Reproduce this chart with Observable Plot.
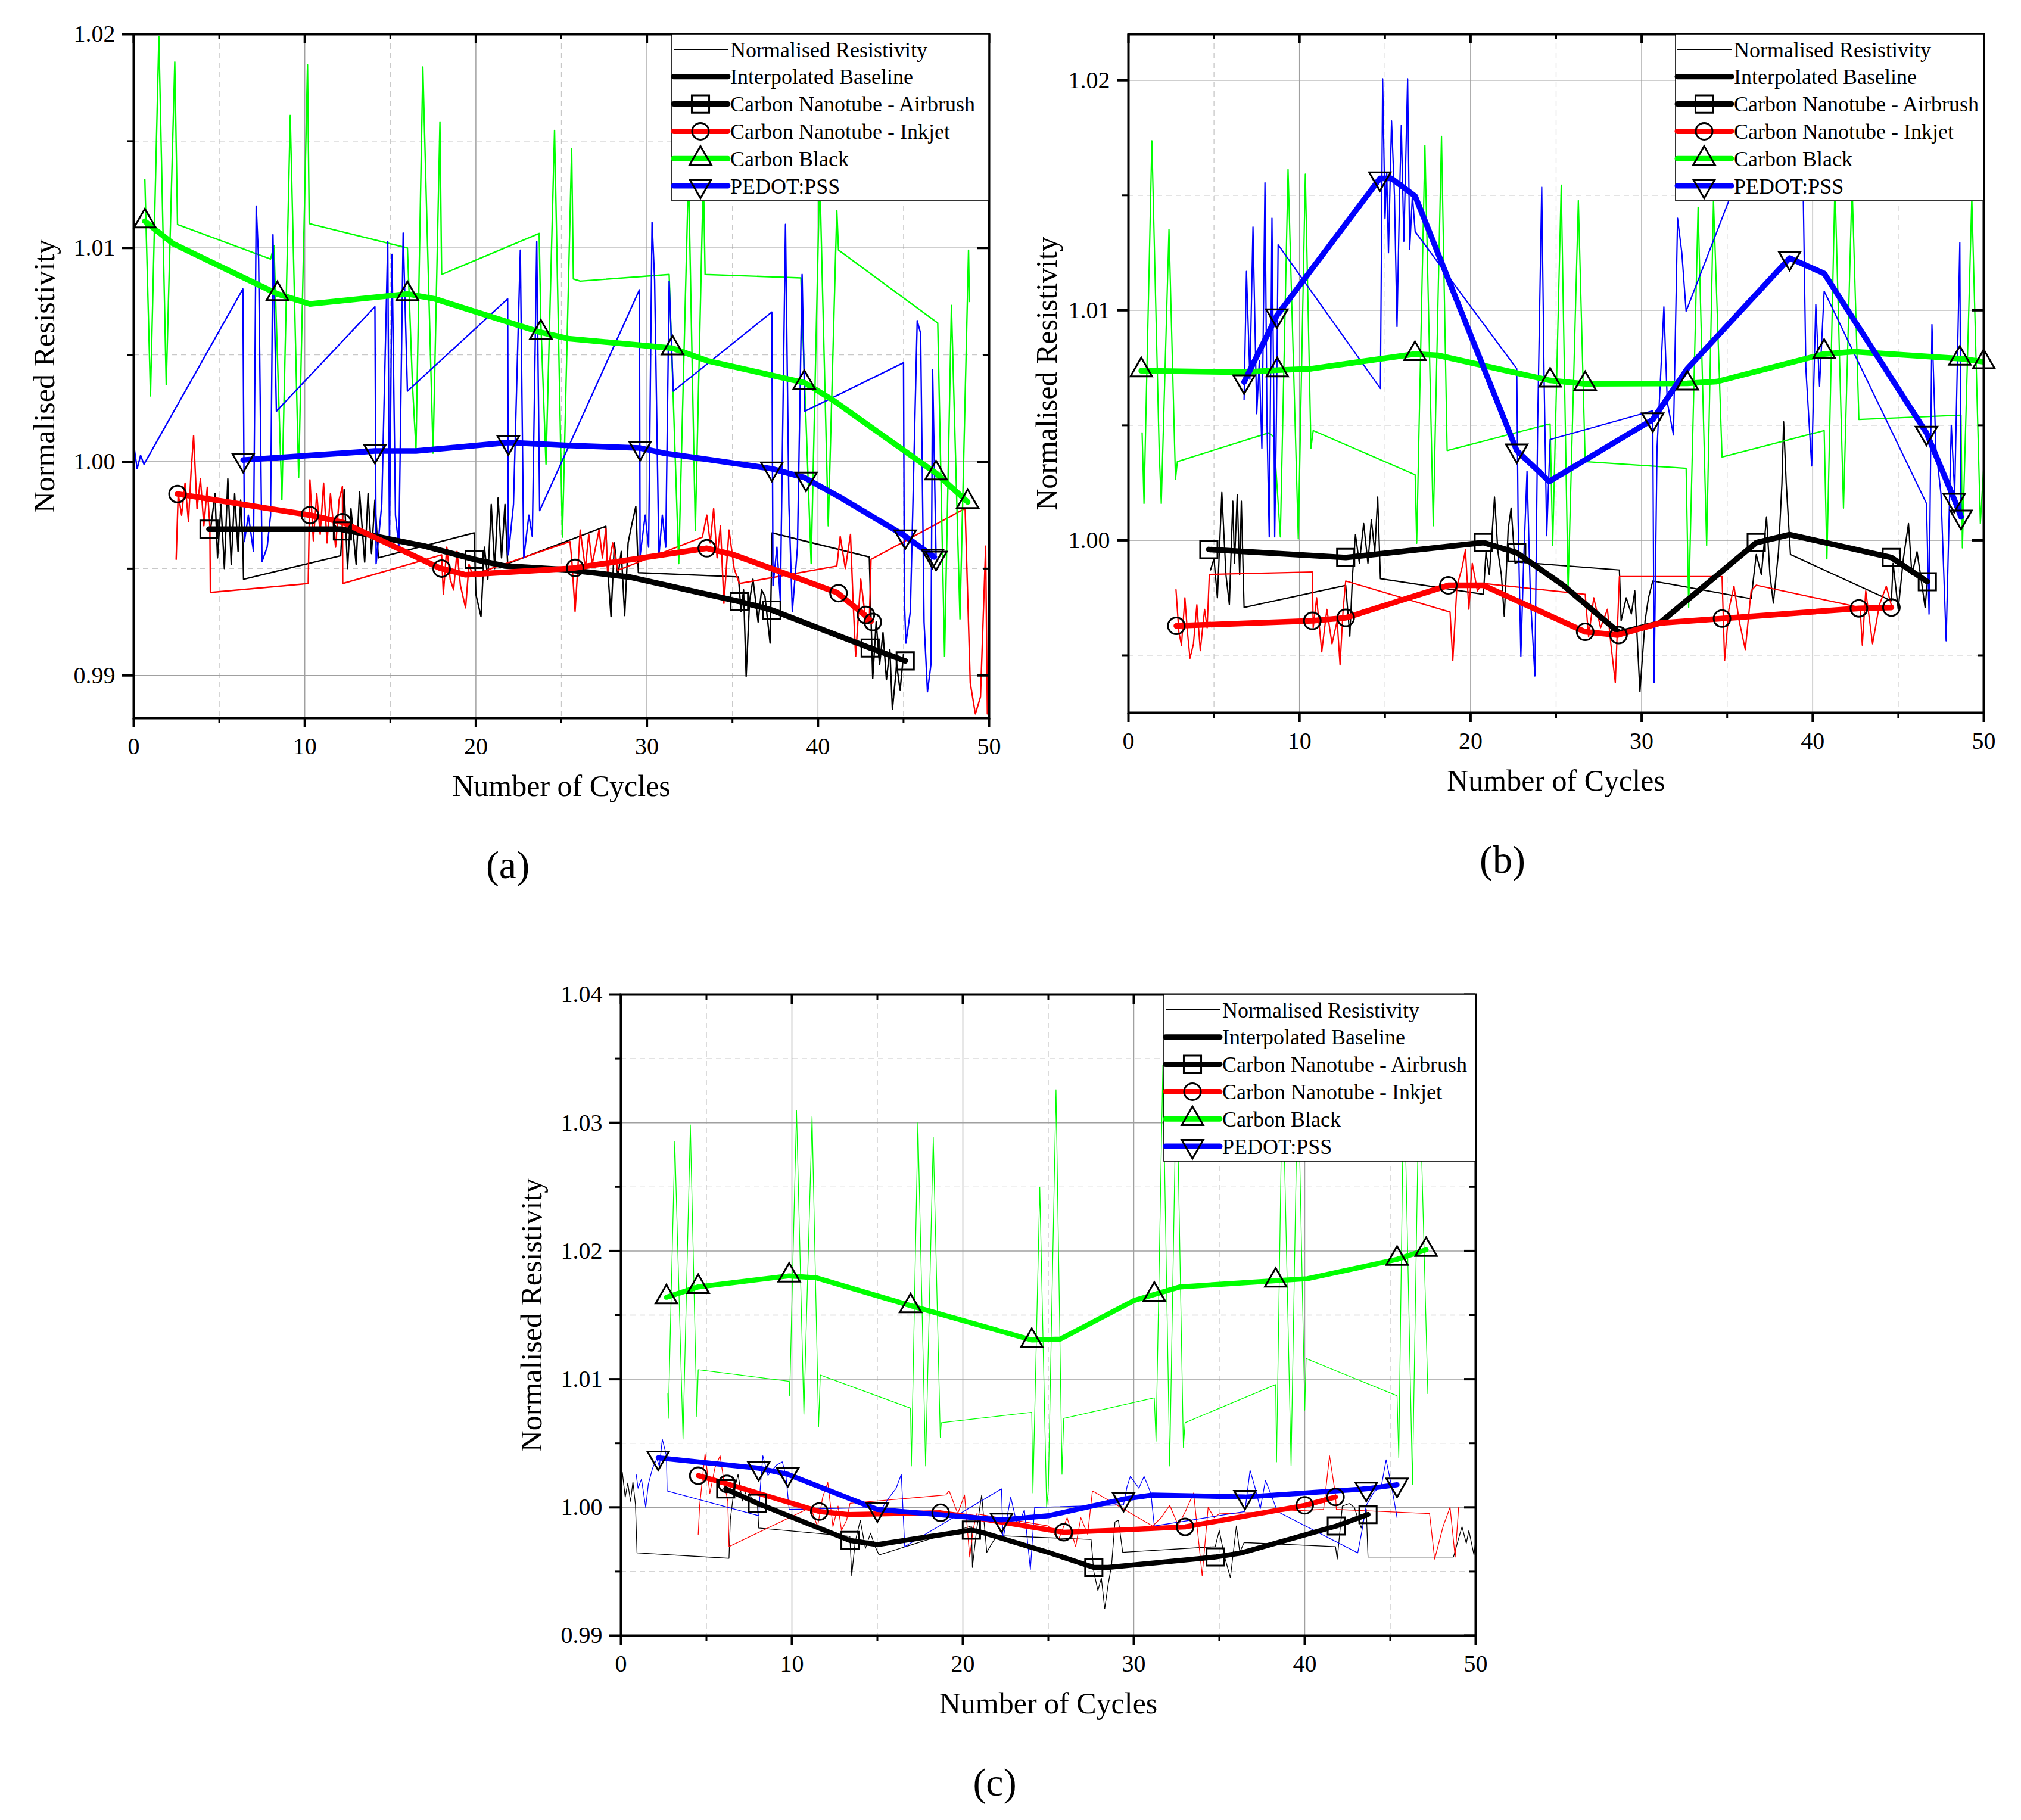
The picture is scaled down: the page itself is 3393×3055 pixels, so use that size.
<!DOCTYPE html>
<html><head><meta charset="utf-8">
<script src="https://cdn.jsdelivr.net/npm/d3@7"></script>
<script src="https://cdn.jsdelivr.net/npm/@observablehq/plot@0.6"></script>
<style>
html,body{margin:0;padding:0;background:#fff;}
#page{position:relative;width:3393px;height:3055px;background:#fff;overflow:hidden;font-family:"Liberation Serif","Times New Roman",serif;}
.panel{position:absolute;}
</style></head><body><div id="page"></div>
<script>
// ---------- tick values ----------
const xTicks = [0, 10, 20, 30, 40, 50];
const xMinorTicks = [5, 15, 25, 35, 45];
const yTicksA = [0.99, 1.00, 1.01, 1.02];
const yMinorA = [0.995, 1.005, 1.015];
const yTicksB = [1.00, 1.01, 1.02];
const yMinorB = [0.995, 1.005, 1.015];
const yTicksC = [0.99, 1.00, 1.01, 1.02, 1.03, 1.04];
const yMinorC = [0.995, 1.005, 1.015, 1.025, 1.035];

const legendLabels = ["Normalised Resistivity", "Interpolated Baseline", "Carbon Nanotube - Airbrush", "Carbon Nanotube - Inkjet", "Carbon Black", "PEDOT:PSS"];
const seriesNames = ["Carbon Nanotube - Airbrush", "Carbon Nanotube - Inkjet", "Carbon Black", "PEDOT:PSS"];
const seriesColors = ["#000000", "#ff0000", "#00ff00", "#0000ff"];
const panelTags = ["(a)", "(b)", "(c)"];
const xLabel = "Number of Cycles";
const yLabel = "Normalised Resistivity";

// ---------- panel (a) ----------
const aBlackThin = [[4.5,0.99688],[4.75,0.9985],[4.9,0.9955],[5.1,0.9980],[5.3,0.9950],[5.5,0.9992],[5.7,0.9952],[5.9,0.9985],[6.1,0.9958],[6.25,0.9982],[6.38,0.9962],[6.42,0.9945],
 [12.1,0.9956],[12.3,0.9987],[12.5,0.9950],[12.7,0.9978],[13.0,0.9952],[13.2,0.9986],[13.5,0.9953],[13.7,0.9985],[13.9,0.9957],[14.1,0.9982],[14.3,0.9955],
 [19.9,0.99667],[20.0,0.9938],[20.3,0.99275],[20.5,0.9960],[20.7,0.9945],[20.9,0.9980],[21.1,0.9950],[21.3,0.9983],[21.5,0.9955],[21.7,0.9980],[21.86,0.99523],
 [27.6,0.99698],[27.65,0.9956],[27.9,0.99275],[28.1,0.9962],[28.3,0.9946],[28.5,0.9958],[28.7,0.9928],[28.9,0.9962],[29.1,0.9970],[29.35,0.99791],[29.5,0.99481],
 [35.35,0.99461],[35.5,0.9930],[35.65,0.9940],[35.8,0.98996],[36.0,0.9935],[36.2,0.9945],[36.5,0.9925],[36.7,0.9940],[36.9,0.9937],[37.2,0.99151],[37.32,0.99667],
 [43.0,0.99554],[43.2,0.98986],[43.4,0.9925],[43.6,0.9905],[43.8,0.9920],[44.0,0.9898],[44.2,0.9912],[44.35,0.98841],[44.6,0.9905],[44.8,0.9893],[45.0,0.9910]];
const aRedThin = [[2.48,0.99543],[2.6,0.9985],[2.8,0.9975],[3.0,0.9990],[3.2,0.9972],[3.35,0.9995],[3.5,1.00122],[3.7,0.9978],[3.9,0.9992],[4.1,0.9970],[4.3,0.9988],[4.45,0.9970],[4.48,0.99388],
 [10.2,0.9943],[10.3,0.99915],[10.5,0.9963],[10.7,0.9985],[10.9,0.9966],[11.1,0.9990],[11.3,0.9962],[11.5,0.9985],[11.8,0.9960],[12.0,0.9982],[12.2,0.99884],[12.22,0.9943],
 [18.0,0.99564],[18.1,0.9938],[18.3,0.9960],[18.5,0.9945],[18.7,0.9940],[18.9,0.9958],[19.1,0.9942],[19.4,0.99316],[19.6,0.9952],[19.8,0.9947],
 [25.5,0.99626],[25.6,0.9955],[25.8,0.9930],[26.1,0.9968],[26.4,0.9950],[26.6,0.9966],[26.8,0.9952],[27.2,0.9968],[27.4,0.9955],[27.6,0.99688],[27.7,0.9948],[28.0,0.9962],[28.3,0.99492],
 [33.24,0.99647],[33.5,0.9975],[33.7,0.9962],[33.9,0.9978],[34.1,0.9955],[34.3,0.9970],[34.5,0.99337],[34.8,0.9968],[35.1,0.9950],[35.4,0.9943],
 [41.1,0.99512],[41.3,0.9965],[41.6,0.9950],[41.9,0.9966],[42.05,0.9935],[42.2,0.99089],[42.5,0.9945],[42.8,0.9925],[43.0,0.99254],[43.1,0.99543],
 [48.6,0.99781],[48.9,0.98965],[49.2,0.9882],[49.5,0.9890],[49.8,0.99605],[49.9,0.9882]];
const aGreenThin = [[0.65,1.0132],[0.98,1.00308],[1.47,1.0199],[1.9,1.0036],[2.4,1.0187],[2.56,1.0111],
 [8.0,1.00948],[8.2,1.0101],[8.66,0.99822],[9.15,1.0162],[9.64,0.99926],[10.16,1.01857],[10.26,1.01114],
 [16.0,1.0100],[16.3,1.0035],[16.5,1.0006],[16.9,1.01847],[17.5,1.0004],[17.9,1.0159],[18.0,1.00876],
 [23.7,1.01068],[23.8,1.0065],[24.1,0.99988],[24.6,1.0155],[25.06,0.99647],[25.6,1.01465],[25.7,1.00855],[26.1,1.00845],
 [31.3,1.00876],[31.86,0.99523],[32.43,1.0135],[32.83,0.99678],[33.3,1.0135],[33.4,1.00876],
 [39.0,1.0086],[39.6,0.99523],[40.1,1.0135],[40.6,0.9970],[41.1,1.01176],[41.2,1.0099],
 [47.0,1.00649],[47.4,0.99089],[47.8,1.00731],[48.3,0.99264],[48.8,1.0099],[48.85,1.0075]];
const aBlueThin = [[0,1.0008],[0.2,0.99967],[0.4,1.0003],[0.6,0.99988],[6.38,1.00808],[6.47,0.99626],[6.7,0.9975],[7.0,0.9958],[7.16,1.01196],[7.3,1.0095],[7.5,0.99533],[7.8,0.9960],[8.0,0.9975],[8.14,1.01062],[8.34,1.00236],
 [14.1,1.00725],[14.17,0.99523],[14.5,0.9980],[14.85,1.0103],[14.95,0.9960],[15.1,1.0097],[15.3,0.9975],[15.5,0.9960],[15.75,1.0107],[16.0,1.0033],
 [21.86,1.00762],[21.9,0.99564],[22.2,0.9980],[22.6,1.0099],[22.8,0.9955],[23.1,0.9975],[23.3,0.9965],[23.56,1.0103],[23.73,0.99771],
 [29.56,1.00804],[29.6,0.9956],[29.9,0.9975],[30.1,0.9960],[30.3,1.0112],[30.45,1.0085],[30.7,0.9956],[30.9,0.9975],[31.1,0.9960],[31.3,1.00845],[31.54,1.0033],
 [37.3,1.007],[37.37,0.9942],[37.6,0.9960],[37.8,0.9935],[38.1,1.0111],[38.3,0.9980],[38.5,0.9930],[38.8,0.9960],[39.07,1.00876],[39.23,1.00236],
 [45.0,1.00463],[45.05,0.9935],[45.14,0.99151],[45.4,0.9930],[45.8,1.0066],[46.0,1.0060],[46.2,0.9925],[46.4,0.98924],[46.6,0.9905],[46.7,1.0043],[46.9,0.99564]];
const aBlackBase = [[4.4,0.99684],[12.1,0.99684],[17.0,0.99605],[19.9,0.99543],[21.7,0.99512],[25.4,0.99494],[29.0,0.9946],[35.35,0.99347],[37.3,0.99306],[43.0,0.9913],[45.1,0.99068]];
const aBlackMarks = [[4.4,0.99684],[12.2,0.99676],[19.9,0.99543],[35.4,0.99345],[37.3,0.99306],[43.05,0.99128],[45.1,0.99068]];
const aRedBase = [[2.56,0.99849],[10.3,0.9975],[12.2,0.99717],[17.9,0.99502],[19.4,0.99471],[25.7,0.99502],[33.5,0.99595],[35.1,0.99564],[41.1,0.99388],[42.7,0.99285],[43.1,0.99254]];
const aRedMarks = [[2.56,0.99849],[10.3,0.9975],[12.2,0.99717],[18.0,0.995],[25.8,0.99503],[33.5,0.99595],[41.2,0.99385],[42.8,0.99283],[43.2,0.9925]];
const aGreenBase = [[0.65,1.01125],[2.3,1.0102],[8.4,1.00785],[10.3,1.00738],[16.0,1.00785],[17.6,1.00762],[23.8,1.00605],[25.4,1.00576],[31.5,1.00531],[33.5,1.00473],[39.2,1.0037],[40.9,1.00287],[46.9,0.99946],[48.75,0.99812]];
const aGreenMarks = [[0.65,1.01125],[8.4,1.00785],[16.0,1.00785],[23.8,1.00605],[31.5,1.00531],[39.2,1.0037],[46.9,0.99946],[48.75,0.99812]];
const aBlueBase = [[6.4,1.00008],[14.1,1.0005],[16.5,1.0005],[21.9,1.0009],[25.4,1.00076],[29.6,1.00064],[31.0,1.0004],[37.3,0.99967],[39.2,0.99926],[41.3,0.99833],[45.0,0.99657],[46.8,0.99554]];
const aBlueMarks = [[6.4,1.00008],[14.1,1.0005],[21.9,1.0009],[29.6,1.00064],[37.3,0.99967],[39.3,0.9992],[45.1,0.9965],[46.7,0.9956],[46.9,0.9955]];

// ---------- panel (b) ----------
const bBlackThin = [[4.8,0.99871],[5.0,0.9992],[5.2,0.9975],[5.46,1.00208],[5.7,0.9985],[5.9,0.9972],[6.1,1.0017],[6.2,0.9990],[6.36,1.00198],[6.5,0.9985],[6.6,1.0017],[6.76,0.99708],
 [12.7,0.99804],[12.94,0.99583],[13.1,0.9985],[13.27,1.00025],[13.5,0.9990],[13.75,1.00073],[14.0,0.9990],[14.2,1.0009],[14.4,0.9995],[14.57,1.00188],[14.73,0.99833],
 [20.75,0.99765],[20.9,0.99948],[21.1,0.9985],[21.4,1.00188],[21.6,0.9995],[21.8,0.9985],[21.97,0.99669],[22.2,1.0005],[22.37,1.0014],[22.6,0.9990],[22.78,0.99905],
 [28.7,0.99871],[28.8,0.9965],[29.1,0.9975],[29.4,0.9968],[29.6,0.9978],[29.9,0.99342],[30.2,0.9965],[30.4,0.9975],[30.65,0.99823],
 [36.4,0.99746],[36.7,0.99938],[37.0,0.9985],[37.3,1.00102],[37.5,0.9985],[37.7,0.99727],[38.0,0.9995],[38.2,1.00246],[38.3,1.00515],[38.45,1.0025],[38.7,0.99938],
 [44.6,0.99737],[44.7,0.9990],[45.0,0.9970],[45.3,0.9992],[45.6,1.00073],[45.8,0.9985],[46.1,0.9995],[46.3,0.9985],[46.57,0.99708],[46.7,0.9982]];
const bRedThin = [[2.78,0.99785],[2.95,0.9960],[3.1,0.99544],[3.3,0.9975],[3.45,0.9960],[3.6,0.99487],[3.8,0.9955],[4.0,0.9972],[4.2,0.9952],[4.45,0.9970],[4.6,0.9962],[4.73,0.99852],
 [10.75,0.99862],[10.8,0.9962],[11.0,0.9975],[11.3,0.99515],[11.6,0.9970],[11.9,0.9955],[12.2,0.9965],[12.37,0.99458],[12.55,0.9970],[12.7,0.99823],
 [18.8,0.99688],[18.96,0.99477],[19.2,0.9980],[19.5,0.9988],[19.7,0.99958],[19.9,0.9970],[20.1,0.9990],[20.4,0.9978],[20.67,0.99813],
 [26.7,0.99765],[26.9,0.9958],[27.2,0.9975],[27.6,0.9962],[28.0,0.9970],[28.2,0.9955],[28.46,0.99381],[28.7,0.99842],
 [34.7,0.99842],[34.85,0.99477],[35.1,0.9970],[35.4,0.9980],[35.7,0.9965],[36.06,0.99525],[36.4,0.9978],[36.7,0.99805],
 [42.77,0.99708],[42.9,0.99544],[43.1,0.9978],[43.5,0.9955],[43.9,0.9972],[44.3,0.9980],[44.63,0.99708]];
const bGreenThin = [[0.8,1.00467],[0.91,1.0016],[1.37,1.01737],[1.8,1.0038],[1.92,1.0016],[2.37,1.01352],[2.75,1.00265],[2.86,1.00342],
 [8.2,1.00467],[8.5,1.0045],[8.88,1.00015],[9.33,1.01612],[9.93,1.00006],[10.34,1.01592],[10.67,1.004],[10.8,1.00477],
 [16.76,1.00285],[16.85,0.99987],[17.33,1.01717],[17.82,1.00063],[18.3,1.01756],[18.63,1.0039],
 [24.65,1.00506],[24.8,0.99977],[25.3,1.01544],[25.7,0.99785],[26.3,1.01477],[26.7,1.00342],
 [32.6,1.00313],[32.75,0.99708],[33.3,1.01448],[33.8,0.99977],[34.2,1.01477],[34.7,1.00362],
 [40.67,1.00477],[40.83,0.99919],[41.3,1.0155],[41.8,1.0014],[42.3,1.0155],[42.7,1.00525],
 [48.67,1.00544],[48.75,0.99967],[49.3,1.0149],[49.8,1.00073],[50.1,1.0045]];
const bBlueThin = [[6.76,1.00612],[6.9,1.01169],[7.1,1.0070],[7.28,1.01362],[7.5,1.0055],[7.65,1.0078],[7.8,1.0040],[7.98,1.01554],[8.1,1.0050],[8.23,1.00015],[8.39,1.014],[8.5,1.0060],[8.55,1.00015],[8.65,1.0053],[8.75,1.01285],
 [14.73,1.0066],[14.86,1.02006],[15.0,1.0140],[15.1,1.0160],[15.2,1.0125],[15.38,1.01823],[15.55,1.0150],[15.7,1.00929],[15.85,1.0150],[15.95,1.01804],[16.1,1.0130],[16.32,1.02006],[16.44,1.01265],[16.6,1.0150],[16.76,1.01342],
 [22.7,1.00746],[22.78,1.00092],[22.94,0.99496],[23.1,0.9990],[23.3,1.0030],[23.5,0.9975],[23.76,0.9941],[23.92,1.00496],[24.16,1.01535],[24.3,1.0070],[24.45,1.0002],[24.65,1.00438],
 [30.65,1.00563],[30.73,0.99381],[30.9,1.0040],[31.1,1.0070],[31.3,1.01015],[31.5,1.0060],[31.86,1.00458],[32.1,1.014],[32.35,1.0125],[32.6,1.00996],
 [36.0,1.0165],[39.3,1.0165],[39.45,1.0149],[39.6,1.00746],[39.94,1.00323],[40.18,1.01025],[40.4,1.0067],[40.67,1.01083],
 [46.65,1.0016],[46.8,0.99679],[46.97,1.00938],[47.2,1.0040],[47.5,1.0020],[47.8,0.99563],[48.1,1.0050],[48.3,1.0020],[48.6,1.01294],[48.67,1.00102]];
const bBlackBase = [[4.7,0.9996],[12.7,0.99925],[20.75,0.9999],[22.7,0.99946],[25.4,0.99805],[28.7,0.99598],[31.05,0.9964],[36.7,0.9999],[38.65,1.00025],[44.6,0.99925],[46.7,0.9982]];
const bBlackMarks = [[4.7,0.9996],[12.7,0.99925],[20.75,0.9999],[22.7,0.99946],[36.7,0.9999],[44.6,0.99925],[46.7,0.9982]];
const bRedBase = [[2.8,0.99628],[10.75,0.9965],[12.7,0.99663],[18.7,0.99804],[20.75,0.99804],[26.7,0.99602],[28.6,0.99588],[31.05,0.9964],[34.7,0.9966],[42.7,0.99704],[44.6,0.99708]];
const bRedMarks = [[2.8,0.99628],[10.75,0.9965],[12.7,0.99663],[18.7,0.99804],[26.7,0.99602],[28.65,0.99588],[34.7,0.9966],[42.7,0.99704],[44.6,0.99708]];
const bGreenBase = [[0.75,1.00737],[6.8,1.00731],[8.7,1.0074],[10.7,1.00746],[16.75,1.0081],[18.1,1.00804],[24.65,1.00695],[26.7,1.0068],[32.67,1.00682],[34.4,1.0069],[40.67,1.0081],[42.4,1.0082],[48.6,1.0079],[50.1,1.00775]];
const bGreenMarks = [[0.75,1.0074],[8.7,1.0074],[16.75,1.0081],[24.65,1.00695],[26.7,1.0068],[32.67,1.00682],[40.67,1.0082],[48.6,1.0079],[50.0,1.00775]];
const bBlueBase = [[6.76,1.00688],[8.68,1.00977],[14.7,1.01573],[15.38,1.01573],[16.76,1.01496],[22.7,1.0039],[24.6,1.00256],[30.65,1.00525],[32.67,1.00746],[38.65,1.01227],[40.67,1.0116],[46.65,1.00467],[48.27,1.00179],[48.67,1.00102]];
const bBlueMarks = [[6.76,1.0069],[8.68,1.00977],[14.7,1.01573],[22.7,1.0039],[30.65,1.00525],[38.65,1.01227],[46.65,1.00467],[48.27,1.00175],[48.67,1.00102]];

// ---------- panel (c) ----------
const cBlackThin = [[0.08,1.00274],[0.25,1.0008],[0.4,1.0019],[0.56,1.00048],[0.7,1.0020],[0.85,1.0002],[0.94,0.99645],
 [6.32,0.99603],[6.4,0.9991],[6.6,1.0012],[6.85,1.00258],[7.1,1.0005],[7.4,1.0015],[7.7,1.0005],[7.98,1.0003],[8.06,0.99839],
 [13.39,0.99774],[13.5,0.99468],[13.7,0.9973],[14.0,0.9990],[14.3,0.9968],[14.6,0.9980],[14.85,0.9970],[15.1,0.99629],
 [20.5,0.99855],[20.56,0.99532],[20.8,0.9982],[21.1,1.00097],[21.4,0.9965],[21.7,0.9972],[22.0,0.9978],
 [27.5,0.9975],[27.66,0.995],[27.9,0.9935],[28.1,0.9945],[28.3,0.9921],[28.5,0.9940],[28.7,0.9955],[28.9,0.99887],[29.1,0.9990],[29.35,0.9965],
 [34.76,0.99694],[35.0,0.9982],[35.3,0.9962],[35.65,0.99452],[36.0,0.99855],[36.2,0.9965],[36.45,0.99726],
 [41.8,0.99694],[41.9,0.99597],[42.2,1.0001],[42.6,1.0003],[42.9,1.0],[43.3,0.9984],[43.6,0.99984],[43.7,0.99613],
 [48.7,0.99613],[49.0,0.99758],[49.2,0.9985],[49.45,0.9972],[49.6,0.9982],[49.9,0.99629],[50.0,0.9975]];
const cRedThin = [[4.52,0.9979],[4.6,1.0001],[4.92,1.00419],[5.2,1.0011],[5.5,1.0031],[5.8,1.00403],[6.05,1.0018],[6.25,1.0005],[6.32,0.99694],
 [11.1,1.0],[11.5,0.9985],[11.8,1.0008],[12.1,1.00194],[12.4,0.9985],[12.7,1.0001],[12.9,0.9982],[13.2,0.9990],[13.4,1.00032],
 [19.0,1.00097],[19.2,1.00129],[19.7,0.99952],[20.1,1.00097],[20.4,0.99613],[20.6,0.99823],[20.8,0.9995],
 [25.0,0.99855],[25.6,0.9975],[26.1,0.9992],[26.6,0.99694],[26.9,0.9992],[27.3,0.9979],[27.58,1.00129],
 [31.1,0.99855],[31.6,0.9992],[32.1,1.00016],[32.6,0.9986],[33.06,0.9998],[33.5,1.00113],[33.8,0.99726],[34.0,0.99468],[34.35,1.0],[34.7,0.9992],[35.0,0.9995],
 [41.1,0.99984],[41.45,1.00403],[41.8,1.00097],[41.85,0.99984],[47.3,0.99952],[47.6,0.99597],[48.1,0.99855],[48.5,1.0],[48.8,0.99613],[49.0,1.0]];
const cGreenThin = [[2.74,1.00887],[2.77,1.00694],[3.15,1.02855],[3.63,1.00532],[4.06,1.02984],[4.44,1.0071],[4.52,1.01074],
 [9.84,1.00984],[9.87,1.0087],[10.27,1.03097],[10.7,1.00726],[11.18,1.03048],[11.56,1.00629],[11.66,1.01032],
 [16.94,1.00774],[16.99,1.00323],[17.37,1.03],[17.82,1.00323],[18.27,1.02887],[18.68,1.00548],[18.74,1.00661],
 [24.03,1.00742],[24.1,1.00113],[24.5,1.025],[24.9,1.0],[25.0,1.00145],[25.45,1.03258],[25.8,1.00258],[25.9,1.00694],
 [31.2,1.00855],[31.3,1.00516],[31.7,1.0345],[32.1,1.00323],[32.5,1.0345],[32.9,1.00468],[33.0,1.00661],
 [38.3,1.00958],[38.35,1.00355],[38.7,1.0345],[39.2,1.00323],[39.6,1.0345],[40.0,1.00758],[40.08,1.01161],
 [45.4,1.00871],[45.5,1.00387],[45.8,1.0345],[46.3,1.00177],[46.7,1.0345],[47.2,1.00887]];
const cBlueThin = [[0.89,1.00258],[1.0,1.0015],[1.2,1.0022],[1.45,1.0],[1.6,1.0018],[1.85,1.00306],[2.1,1.0038],[2.25,1.0032],[2.42,1.00532],[2.66,1.00403],[2.7,1.00129],
 [8.06,0.99935],[8.15,1.0015],[8.3,1.00403],[8.6,1.0025],[9.1,1.0033],[9.44,1.00355],[9.65,1.0025],[9.84,0.99984],
 [15.3,1.0],[15.7,1.0008],[16.1,1.0015],[16.4,1.00258],[16.6,0.99694],
 [22.26,1.00145],[22.35,0.9975],[22.8,1.0008],[23.2,0.9985],[23.6,0.9998],[23.95,0.99516],[24.2,1.0],
 [29.4,1.0002],[29.6,1.0016],[29.8,1.00242],[30.3,1.0015],[30.6,1.00242],[31.0,1.0011],[31.2,0.99855],
 [36.5,0.99968],[36.8,1.0029],[37.1,1.0015],[37.4,0.9999],[37.7,1.0021],[38.0,1.0011],[38.4,0.99968],
 [43.1,0.99645],[43.35,0.9982],[43.6,1.00016],[44.0,1.0011],[44.5,1.0018],[44.76,1.00371],[45.1,1.0015],[45.4,0.9992]];
const cBlackBase = [[6.13,1.00145],[7.98,1.00032],[13.4,0.99742],[15.0,0.9971],[20.5,0.99823],[21.1,0.99806],[25.1,0.99645],[27.66,0.99532],[28.5,0.99532],[34.76,0.99613],[36.3,0.99645],[41.85,0.99855],[43.7,0.99945]];
const cBlackMarks = [[6.13,1.00145],[7.98,1.00032],[13.4,0.99742],[20.5,0.99823],[27.66,0.99532],[34.76,0.99613],[41.85,0.99855],[43.7,0.99945]];
const cRedBase = [[4.52,1.00248],[6.2,1.00184],[11.6,0.99968],[13.3,0.99945],[18.7,0.99958],[20.5,0.99925],[25.9,0.99806],[29.0,0.99823],[33.0,0.99848],[40.0,1.00016],[41.8,1.00081]];
const cRedMarks = [[4.52,1.00248],[6.2,1.00184],[11.6,0.99968],[18.7,0.99958],[25.9,0.99806],[33.0,0.99848],[40.0,1.00016],[41.8,1.00081]];
const cGreenBase = [[2.66,1.01639],[4.52,1.0172],[9.84,1.01806],[11.45,1.0179],[16.94,1.01574],[24.03,1.01306],[25.7,1.01313],[30.0,1.01613],[31.2,1.01661],[32.7,1.0172],[38.3,1.01768],[40.16,1.01784],[45.4,1.01935],[47.1,1.0201]];
const cGreenMarks = [[2.66,1.0164],[4.52,1.0172],[9.84,1.0181],[16.94,1.0157],[24.03,1.0130],[31.2,1.0166],[38.3,1.0177],[45.4,1.0194],[47.1,1.0201]];
const cBlueBase = [[2.18,1.00387],[8.06,1.00306],[9.76,1.00258],[15.0,0.99984],[22.26,0.99903],[25.0,0.99935],[29.4,1.00065],[31.1,1.00097],[36.5,1.00081],[43.6,1.00145],[45.4,1.00177]];
const cBlueMarks = [[2.18,1.00387],[8.06,1.00306],[9.76,1.00258],[15.0,0.99984],[22.26,0.99903],[29.4,1.00065],[36.5,1.00081],[43.6,1.00145],[45.4,1.00177]];

// ---------- drawing ----------
const triangleDown = {
  draw(ctx, size) {
    const y = -Math.sqrt(size / (Math.sqrt(3) * 3));
    ctx.moveTo(0, -y * 2);
    ctx.lineTo(-Math.sqrt(3) * y, y);
    ctx.lineTo(Math.sqrt(3) * y, y);
    ctx.closePath();
  }
};
const markSymbols = ["square", "circle", "triangle", triangleDown];
const markR = [16.4, 14, 13.4, 13.4];
const d3Symbols = [d3.symbolSquare, d3.symbolCircle, d3.symbolTriangle, triangleDown];

const M = {l: 220, r: 30, t: 30, b: 340};
const FONT = "'Liberation Serif','Times New Roman',serif";

function makePanel(p) {
  const W = p.fw + M.l + M.r, H = p.fh + M.t + M.b;
  const X = d => d[0], Y = d => d[1];
  const marks = [
    Plot.gridX(xMinorTicks, {stroke: "#c8c8c8", strokeOpacity: 1, strokeWidth: 1.3, strokeDasharray: "9,7"}),
    Plot.gridY(p.yMinor, {stroke: "#c8c8c8", strokeOpacity: 1, strokeWidth: 1.3, strokeDasharray: "9,7"}),
    Plot.gridX(xTicks, {stroke: "#a0a0a0", strokeOpacity: 1, strokeWidth: 1.5}),
    Plot.gridY(p.yTicks, {stroke: "#a0a0a0", strokeOpacity: 1, strokeWidth: 1.5})
  ];
  p.thin.forEach((s, i) => marks.push(Plot.line(s, {x: X, y: Y, stroke: seriesColors[i], strokeWidth: p.thinW, strokeLinejoin: "round", clip: true})));
  p.base.forEach((s, i) => marks.push(Plot.line(s, {x: X, y: Y, stroke: seriesColors[i], strokeWidth: p.thickW, strokeLinejoin: "round", strokeLinecap: "round", clip: true})));
  p.marks.forEach((s, i) => marks.push(Plot.dot(s, {x: X, y: Y, symbol: markSymbols[i], r: markR[i], stroke: "black", strokeWidth: 3, fill: "none"})));
  marks.push(
    Plot.frame({stroke: "black", strokeWidth: 4}),
    Plot.axisX(xTicks, {anchor: "bottom", tickSize: 16, tickPadding: 16, strokeWidth: 4, fontSize: 40, label: null, tickFormat: d => String(d)}),
    Plot.axisX(xMinorTicks, {anchor: "bottom", tickSize: 9, strokeWidth: 3, fill: "none", label: null}),
    Plot.axisY(p.yTicks, {anchor: "left", tickSize: 19, tickPadding: 12, strokeWidth: 4, fontSize: 40, label: null, tickFormat: d3.format(".2f")}),
    Plot.axisY(p.yMinor, {anchor: "left", tickSize: 10, strokeWidth: 3, fill: "none", label: null}),
    Plot.tickX(xTicks, {x: d => d, stroke: "black", strokeWidth: 4, insetBottom: p.fh - 16}),
    Plot.tickX(xMinorTicks, {x: d => d, stroke: "black", strokeWidth: 3, insetBottom: p.fh - 9}),
    Plot.tickY(p.yTicks, {y: d => d, stroke: "black", strokeWidth: 4, insetLeft: p.fw - 19}),
    Plot.tickY(p.yMinor, {y: d => d, stroke: "black", strokeWidth: 3, insetLeft: p.fw - 10}),
    Plot.text([xLabel], {text: d => d, frameAnchor: "bottom", dy: 130, fontSize: 50, fill: "black"}),
    Plot.text([yLabel], {text: d => d, frameAnchor: "left", dx: p.ylabDx, rotate: -90, fontSize: 50, textAnchor: "middle", fill: "black"}),
    Plot.text([p.tag], {text: d => d, frameAnchor: "bottom", dy: 268, dx: -90, fontSize: 66, fill: "black"})
  );
  const svg = Plot.plot({
    width: W, height: H,
    marginLeft: M.l, marginRight: M.r, marginTop: M.t, marginBottom: M.b,
    x: {domain: [0, 50]},
    y: {domain: p.yDomain},
    style: {fontFamily: FONT, fontSize: "40px", color: "black", background: "transparent", overflow: "visible"},
    marks
  });
  // legend box inside the frame, top-right
  const lx = M.l + p.fw - p.legendW, ly = M.t;
  const g = d3.select(svg).append("g").attr("font-family", FONT).attr("font-size", 36).attr("text-anchor", "start");
  g.append("rect").attr("x", lx).attr("y", ly).attr("width", p.legendW).attr("height", 280)
    .attr("fill", "white").attr("stroke", "black").attr("stroke-width", 1.6);
  legendLabels.forEach((lab, i) => {
    const cy = ly + 26 + 45.8 * i;
    const col = i < 2 ? "#000000" : seriesColors[i - 2];
    g.append("line").attr("x1", lx + 3).attr("x2", lx + 94).attr("y1", cy).attr("y2", cy)
      .attr("stroke", col).attr("stroke-width", i === 0 ? 2.2 : 9).attr("stroke-linecap", i === 0 ? "butt" : "round");
    if (i >= 2) {
      const k = i - 2;
      g.append("path").attr("d", d3.symbol(d3Symbols[k], Math.PI * markR[k] * markR[k])())
        .attr("transform", `translate(${lx + 48},${cy})`)
        .attr("fill", "none").attr("stroke", "black").attr("stroke-width", 3);
    }
    g.append("text").attr("x", lx + 98).attr("y", cy).attr("dy", "0.35em")
      .attr("text-anchor", "start").attr("fill", "black").text(lab);
  });
  const div = document.createElement("div");
  div.className = "panel";
  div.style.left = (p.fx - M.l) + "px";
  div.style.top = (p.fy - M.t) + "px";
  div.appendChild(svg);
  document.getElementById("page").appendChild(div);
}

makePanel({tag: panelTags[0], fx: 224, fy: 57, fw: 1436, fh: 1148, yDomain: [0.988, 1.02], yTicks: yTicksA, yMinor: yMinorA,
  thin: [aBlackThin, aRedThin, aGreenThin, aBlueThin], base: [aBlackBase, aRedBase, aGreenBase, aBlueBase],
  marks: [aBlackMarks, aRedMarks, aGreenMarks, aBlueMarks], thinW: 2.4, thickW: 9.5, legendW: 532, ylabDx: -150});
makePanel({tag: panelTags[1], fx: 1894, fy: 57, fw: 1436, fh: 1139, yDomain: [0.9925, 1.022], yTicks: yTicksB, yMinor: yMinorB,
  thin: [bBlackThin, bRedThin, bGreenThin, bBlueThin], base: [bBlackBase, bRedBase, bGreenBase, bBlueBase],
  marks: [bBlackMarks, bRedMarks, bGreenMarks, bBlueMarks], thinW: 2.2, thickW: 9.5, legendW: 517, ylabDx: -137});
makePanel({tag: panelTags[2], fx: 1042, fy: 1669, fw: 1435, fh: 1076, yDomain: [0.99, 1.04], yTicks: yTicksC, yMinor: yMinorC,
  thin: [cBlackThin, cRedThin, cGreenThin, cBlueThin], base: [cBlackBase, cRedBase, cGreenBase, cBlueBase],
  marks: [cBlackMarks, cRedMarks, cGreenMarks, cBlueMarks], thinW: 1.3, thickW: 8.5, legendW: 523, ylabDx: -150});
</script>
</body></html>
